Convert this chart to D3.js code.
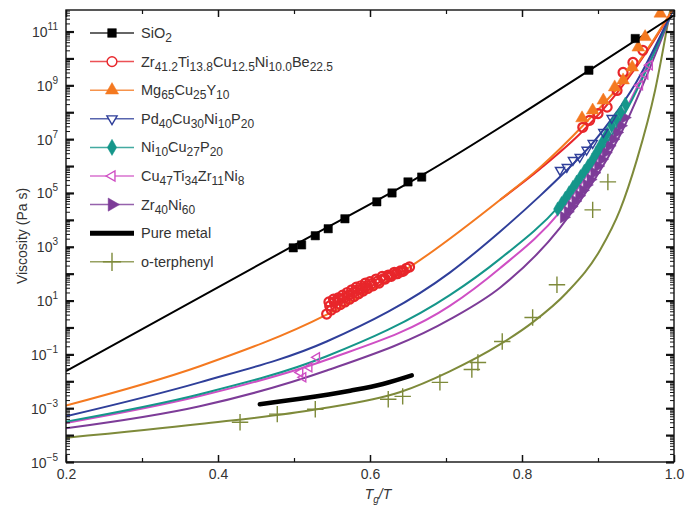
<!DOCTYPE html>
<html>
<head>
<meta charset="utf-8">
<script src="https://cdn.jsdelivr.net/npm/d3@7"></script>
<style>
  body { margin: 0; background: #fff; }
  text { font-family: "Liberation Sans", Arial, sans-serif; fill: #333; }
</style>
</head>
<body>
<svg id="chart" width="686" height="506"></svg>
<script>
'use strict';
// x values are Tg/T, y values are log10 of viscosity (Pa s)

// SiO2
const SIO2_FIT_X = [0.2, 0.5, 0.668, 0.888, 1.0];
const SIO2_FIT_Y = [-1.62, 3.05, 5.65, 9.55, 11.6];
const SIO2_PTS_X = [0.499, 0.510, 0.528, 0.545, 0.567, 0.609, 0.629, 0.650, 0.668, 0.888, 0.949];
const SIO2_PTS_Y = [2.96, 3.07, 3.41, 3.67, 4.04, 4.67, 5.00, 5.41, 5.59, 9.56, 10.74];

// Zr41.2Ti13.8Cu12.5Ni10.0Be22.5
const ZR_FIT_X = [0.771, 0.824, 0.88, 0.93, 0.97, 1.0];
const ZR_FIT_Y = [4.74, 5.9, 7.3, 8.9, 10.5, 11.9];
const ZR_PTS_X = [0.543, 0.546, 0.549, 0.552, 0.555, 0.558, 0.561, 0.564, 0.567, 0.570, 0.573,
                  0.576, 0.579, 0.582, 0.585, 0.588, 0.591, 0.594, 0.597, 0.600, 0.604, 0.608,
                  0.612, 0.616, 0.620, 0.624, 0.628, 0.632, 0.636, 0.640, 0.644, 0.648, 0.652,
                  0.547, 0.553, 0.560, 0.566, 0.572, 0.578, 0.584, 0.590, 0.596, 0.602, 0.610,
                  0.618, 0.626, 0.634, 0.642,
                  0.880, 0.889, 0.900, 0.912, 0.925, 0.933, 0.946, 0.959];
const ZR_PTS_Y = [0.50, 0.95, 0.65, 1.05, 0.75, 1.10, 0.85, 1.20, 0.95, 1.30, 1.05,
                  1.40, 1.15, 1.50, 1.25, 1.55, 1.35, 1.65, 1.45, 1.70, 1.55, 1.80,
                  1.65, 1.90, 1.80, 1.95, 1.90, 2.05, 2.00, 2.10, 2.10, 2.20, 2.25,
                  0.80, 0.95, 1.05, 1.10, 1.20, 1.30, 1.40, 1.45, 1.55, 1.62, 1.72,
                  1.82, 1.92, 2.00, 2.08,
                  7.44, 7.70, 7.95, 8.19, 8.81, 9.48, 9.85, 10.30];

// Mg65Cu25Y10
const MG_FIT_X = [0.2, 0.376, 0.543, 0.653, 0.771, 0.824, 0.88, 0.955, 1.0];
const MG_FIT_Y = [-2.9, -1.44, 0.48, 2.26, 4.74, 5.96, 7.5, 9.93, 11.9];
const MG_PTS_X = [0.879, 0.893, 0.907, 0.922, 0.933, 0.945, 0.953, 0.962, 0.982];
const MG_PTS_Y = [7.78, 8.07, 8.44, 8.93, 9.19, 9.67, 10.41, 10.8, 11.67];

// Pd40Cu30Ni10P20
const PD_FIT_X = [0.2, 0.376, 0.543, 0.705, 0.771, 0.824, 0.85, 0.893, 0.918, 0.95, 1.0];
const PD_FIT_Y = [-3.3, -2.04, -0.52, 2.04, 3.56, 4.9, 5.6, 6.85, 7.75, 9.1, 11.9];
const PD_PTS_X = [0.850, 0.859, 0.867, 0.876, 0.885, 0.893, 0.907, 0.918];
const PD_PTS_Y = [5.85, 5.96, 6.22, 6.33, 6.6, 6.85, 7.26, 7.78];

// Ni10Cu27P20
const NI_FIT_X = [0.2, 0.376, 0.543, 0.705, 0.771, 0.85, 0.94, 1.0];
const NI_FIT_Y = [-3.5, -2.48, -1.07, 1.2, 2.55, 4.55, 8.2, 11.9];
const NI_PTS_X = [0.847, 0.852, 0.857, 0.862, 0.867, 0.872, 0.877, 0.882, 0.887,
                  0.892, 0.897, 0.902, 0.907, 0.912, 0.918, 0.924, 0.930, 0.936];
const NI_PTS_Y = [4.4, 4.6, 4.8, 5.0, 5.2, 5.4, 5.6, 5.8, 6.0,
                  6.2, 6.45, 6.7, 6.95, 7.2, 7.5, 7.75, 8.0, 8.3];

// Cu47Ti34Zr11Ni8
const CU_FIT_X = [0.2, 0.376, 0.543, 0.705, 0.771, 0.85, 0.93, 1.0];
const CU_FIT_Y = [-3.55, -2.55, -1.2, 0.8, 2.2, 4.3, 7.75, 11.9];
const CU_PTS_X = [0.508, 0.512, 0.520, 0.530, 0.955, 0.962, 0.968];
const CU_PTS_Y = [-1.67, -1.85, -1.48, -1.11, 9.0, 9.4, 9.75];

// Zr40Ni60
const ZRNI_FIT_X = [0.2, 0.376, 0.543, 0.705, 0.771, 0.85, 0.93, 1.0];
const ZRNI_FIT_Y = [-3.75, -2.93, -1.6, 0.3, 1.48, 3.7, 7.2, 11.9];
const ZRNI_PTS_X = [0.855, 0.860, 0.865, 0.870, 0.875, 0.880, 0.885, 0.890, 0.895,
                    0.900, 0.905, 0.910, 0.915, 0.920, 0.925, 0.930, 0.935];
const ZRNI_PTS_Y = [4.1, 4.3, 4.5, 4.7, 4.9, 5.1, 5.3, 5.5, 5.75,
                    6.0, 6.25, 6.5, 6.75, 7.0, 7.25, 7.5, 7.8];

// Pure metal
const METAL_X = [0.455, 0.508, 0.574, 0.617, 0.655];
const METAL_Y = [-2.85, -2.65, -2.35, -2.1, -1.78];

// o-terphenyl
const OTP_FIT_X = [0.2, 0.376, 0.53, 0.639, 0.705, 0.771, 0.814, 0.859, 0.903, 0.929, 0.951, 0.975, 0.995];
const OTP_FIT_Y = [-4.1, -3.59, -3.04, -2.41, -1.63, -0.63, 0.19, 1.30, 2.89, 4.37, 6.22, 8.8, 11.8];
const OTP_PTS_X = [0.429, 0.478, 0.528, 0.624, 0.643, 0.692, 0.734, 0.742, 0.774, 0.814, 0.846, 0.893, 0.913];
const OTP_PTS_Y = [-3.52, -3.22, -3.04, -2.67, -2.56, -2.04, -1.56, -1.30, -0.52, 0.37, 1.59, 4.37, 5.41];

// axes
const X_MAJOR = [0.2, 0.4, 0.6, 0.8, 1.0];
const X_MINOR = [0.3, 0.5, 0.7, 0.9];
const Y_DECADES = d3.range(-5, 12);
const Y_LABEL_EXP = [11, 9, 7, 5, 3, 1, -1, -3, -5];

const PLOT_LEFT = 66, PLOT_RIGHT = 674, PLOT_TOP = 10, PLOT_BOTTOM = 462;

let chart = d3.select('#chart');

let xScale = d3.scaleLinear().domain([0.2, 1.0]).range([PLOT_LEFT, PLOT_RIGHT]);
let yScale = d3.scaleLog().domain([1e-5, Math.pow(10, 11.8)]).range([PLOT_BOTTOM, PLOT_TOP]);

function zip(xs, ys) { return xs.map(function(v, i) { return [v, Math.pow(10, ys[i])]; }); }

let series = [
  { key: 'otp',  label: 'o-terphenyl', color: '#7e8a3a', fit: zip(OTP_FIT_X, OTP_FIT_Y), pts: zip(OTP_PTS_X, OTP_PTS_Y), symbol: d3.symbolPlus, size: 90, rot: 0, filled: false },
  { key: 'zrni', label: 'Zr_{40}Ni_{60}', color: '#7d3c98', fit: zip(ZRNI_FIT_X, ZRNI_FIT_Y), pts: zip(ZRNI_PTS_X, ZRNI_PTS_Y), symbol: d3.symbolTriangle, size: 60, rot: 90, filled: true },
  { key: 'cu',   label: 'Cu_{47}Ti_{34}Zr_{11}Ni_{8}', color: '#cf4fc4', fit: zip(CU_FIT_X, CU_FIT_Y), pts: zip(CU_PTS_X, CU_PTS_Y), symbol: d3.symbolTriangle2, size: 60, rot: -90, filled: false },
  { key: 'ni',   label: 'Ni_{10}Cu_{27}P_{20}', color: '#15968a', fit: zip(NI_FIT_X, NI_FIT_Y), pts: zip(NI_PTS_X, NI_PTS_Y), symbol: d3.symbolDiamond, size: 60, rot: 0, filled: true },
  { key: 'pd',   label: 'Pd_{40}Cu_{30}Ni_{10}P_{20}', color: '#2f3f9a', fit: zip(PD_FIT_X, PD_FIT_Y), pts: zip(PD_PTS_X, PD_PTS_Y), symbol: d3.symbolTriangle2, size: 60, rot: 180, filled: false },
  { key: 'zr',   label: 'Zr_{41.2}Ti_{13.8}Cu_{12.5}Ni_{10.0}Be_{22.5}', color: '#e8262b', fit: zip(ZR_FIT_X, ZR_FIT_Y), pts: zip(ZR_PTS_X, ZR_PTS_Y), symbol: d3.symbolCircle, size: 64, rot: 0, filled: false },
  { key: 'mg',   label: 'Mg_{65}Cu_{25}Y_{10}', color: '#f47920', fit: zip(MG_FIT_X, MG_FIT_Y), pts: zip(MG_PTS_X, MG_PTS_Y), symbol: d3.symbolTriangle, size: 70, rot: 0, filled: true },
  { key: 'sio2', label: 'SiO_{2}', color: '#000000', fit: zip(SIO2_FIT_X, SIO2_FIT_Y), pts: zip(SIO2_PTS_X, SIO2_PTS_Y), symbol: d3.symbolSquare, size: 70, rot: 0, filled: true }
];
let metal = { label: 'Pure metal', color: '#000000', fit: zip(METAL_X, METAL_Y) };

// legend order top to bottom
let legendOrder = ['sio2', 'zr', 'mg', 'pd', 'ni', 'cu', 'zrni', 'metal', 'otp'];

chart.append('defs').append('clipPath').attr('id', 'plotClip')
  .append('rect')
  .attr('x', PLOT_LEFT).attr('y', PLOT_TOP)
  .attr('width', PLOT_RIGHT - PLOT_LEFT).attr('height', PLOT_BOTTOM - PLOT_TOP);

let line = d3.line()
  .x(function(d) { return xScale(d[0]); })
  .y(function(d) { return yScale(d[1]); })
  .curve(d3.curveMonotoneX);

let plot = chart.append('g').attr('clip-path', 'url(#plotClip)');

// fit curves
plot.selectAll('path.fit')
  .data(series)
  .enter()
  .append('path')
  .attr('class', 'fit')
  .attr('d', function(d) { return line(d.fit); })
  .attr('fill', 'none')
  .attr('stroke', function(d) { return d.color; })
  .attr('stroke-width', 2);

plot.append('path')
  .attr('d', line(metal.fit))
  .attr('fill', 'none')
  .attr('stroke', metal.color)
  .attr('stroke-width', 4.5)
  .attr('stroke-linecap', 'round');

// data markers
series.forEach(function(s) {
  let sym = d3.symbol().type(s.symbol).size(s.size);
  plot.append('g').selectAll('path')
    .data(s.pts)
    .enter()
    .append('path')
    .attr('d', sym)
    .attr('transform', function(d) { return 'translate(' + xScale(d[0]) + ',' + yScale(d[1]) + ') rotate(' + s.rot + ')'; })
    .attr('fill', s.filled ? s.color : 'none')
    .attr('stroke', s.color)
    .attr('stroke-width', s.filled ? 0.5 : (s.key === 'zr' ? 2.2 : 1.4));
});

// axes
function styleAxis(g, width) {
  g.select('.domain').remove();
  g.selectAll('.tick line').attr('stroke', '#111').attr('stroke-width', width);
}

chart.append('g')
  .attr('transform', 'translate(0,' + PLOT_BOTTOM + ')')
  .call(d3.axisBottom(xScale).tickValues(X_MAJOR).tickSize(-7).tickPadding(7).tickFormat(d3.format('.1f')))
  .call(styleAxis, 1.5)
  .selectAll('text').attr('font-size', 14).attr('fill', '#333');
chart.append('g')
  .attr('transform', 'translate(0,' + PLOT_BOTTOM + ')')
  .call(d3.axisBottom(xScale).tickValues(X_MINOR).tickSize(-4).tickFormat(''))
  .call(styleAxis, 1.2);
chart.append('g')
  .attr('transform', 'translate(0,' + PLOT_TOP + ')')
  .call(d3.axisTop(xScale).tickValues(X_MAJOR).tickSize(-7).tickFormat(''))
  .call(styleAxis, 1.5);
chart.append('g')
  .attr('transform', 'translate(0,' + PLOT_TOP + ')')
  .call(d3.axisTop(xScale).tickValues(X_MINOR).tickSize(-4).tickFormat(''))
  .call(styleAxis, 1.2);

let decadeVals = Y_DECADES.map(function(e) { return Math.pow(10, e); });
let minorVals = [];
Y_DECADES.forEach(function(e) {
  d3.range(2, 10).forEach(function(k) {
    let v = k * Math.pow(10, e);
    if (v <= yScale.domain()[1]) minorVals.push(v);
  });
});

[[d3.axisLeft, PLOT_LEFT], [d3.axisRight, PLOT_RIGHT]].forEach(function(a) {
  chart.append('g')
    .attr('transform', 'translate(' + a[1] + ',0)')
    .call(a[0](yScale).tickValues(minorVals).tickSize(-4).tickFormat(''))
    .call(styleAxis, 1);
  chart.append('g')
    .attr('class', a[1] === PLOT_LEFT ? 'yLeft' : 'yRight')
    .attr('transform', 'translate(' + a[1] + ',0)')
    .call(a[0](yScale).tickValues(decadeVals).tickSize(-8).tickFormat(''))
    .call(styleAxis, 2.2);
});

// y tick labels 10^n
chart.select('.yLeft').selectAll('.tick').each(function(d) {
  let e = Math.round(Math.log10(d));
  if (Y_LABEL_EXP.indexOf(e) < 0) return;
  let t = d3.select(this).select('text')
    .attr('x', -8)
    .attr('dy', null)
    .attr('y', 5)
    .attr('text-anchor', 'end')
    .attr('font-size', 14)
    .attr('fill', '#333')
    .text('10');
  t.append('tspan')
    .attr('font-size', 10)
    .attr('dy', -7)
    .text(String(e).replace('-', '\u2212'));
});

// frame
chart.append('rect')
  .attr('x', PLOT_LEFT).attr('y', PLOT_TOP)
  .attr('width', PLOT_RIGHT - PLOT_LEFT).attr('height', PLOT_BOTTOM - PLOT_TOP)
  .attr('fill', 'none')
  .attr('stroke', '#111')
  .attr('stroke-width', 1.4);

// axis titles
chart.append('text')
  .attr('transform', 'translate(27,' + ((PLOT_TOP + PLOT_BOTTOM) / 2) + ') rotate(-90)')
  .attr('text-anchor', 'middle')
  .attr('font-size', 14)
  .text('Viscosity (Pa s)');

let xTitle = chart.append('text')
  .attr('x', (PLOT_LEFT + PLOT_RIGHT) / 2 + 8)
  .attr('y', 499)
  .attr('text-anchor', 'middle')
  .attr('font-size', 14)
  .attr('font-style', 'italic');
xTitle.append('tspan').text('T');
xTitle.append('tspan').attr('font-size', 10).attr('dy', 4).text('g');
xTitle.append('tspan').attr('dy', -4).text('/T');

// legend
function addLabel(sel, label) {
  let parts = label.split(/(_\{[^}]*\})/).filter(function(p) { return p.length; });
  let sub = false;
  parts.forEach(function(p) {
    if (p.indexOf('_{') === 0) {
      sel.append('tspan').attr('font-size', 12).attr('dy', sub ? 0 : 4).text(p.slice(2, -1));
      sub = true;
    } else {
      sel.append('tspan').attr('font-size', 14.5).attr('dy', sub ? -4 : 0).text(p);
      sub = false;
    }
  });
}

const LEGEND_TOP = 33, LEGEND_STEP = 28.6;
let legend = chart.append('g');
legendOrder.forEach(function(key, i) {
  let yPos = LEGEND_TOP + i * LEGEND_STEP;
  let item = legend.append('g').attr('transform', 'translate(0,' + yPos + ')');
  if (key === 'metal') {
    item.append('line').attr('x1', 90).attr('x2', 134).attr('stroke', metal.color).attr('stroke-width', 5);
    addLabel(item.append('text').attr('x', 141).attr('y', 5), metal.label);
    return;
  }
  let s = series.find(function(d) { return d.key === key; });
  item.append('line').attr('x1', 90).attr('x2', 134)
    .attr('stroke', s.color).attr('stroke-width', 1.5).attr('opacity', 0.8);
  item.append('path')
    .attr('d', d3.symbol().type(s.symbol).size(s.key === 'otp' ? 110 : 75)())
    .attr('transform', 'translate(112,0) rotate(' + s.rot + ')')
    .attr('fill', s.filled ? s.color : '#fff')
    .attr('stroke', s.color)
    .attr('stroke-width', s.filled ? 0.5 : 1.4);
  addLabel(item.append('text').attr('x', 141).attr('y', 5), s.label);
});
</script>
</body>
</html>
